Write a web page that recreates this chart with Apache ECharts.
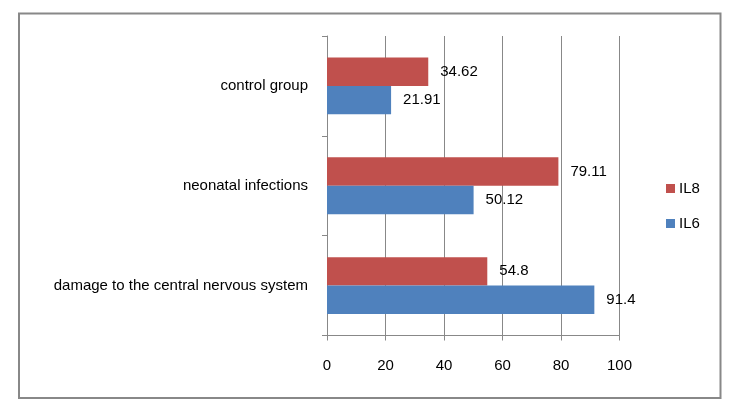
<!DOCTYPE html>
<html>
<head>
<meta charset="utf-8">
<script src="https://cdn.jsdelivr.net/npm/echarts@6/dist/echarts.min.js"></script>
<style>
html,body{margin:0;padding:0;background:#fff;}
#chart{width:734px;height:408px;}
</style>
</head>
<body>
<div id="chart"></div>
<script>
const categories = ['damage to the central nervous system', 'neonatal infections', 'control group'];
const il6 = [91.4, 50.12, 21.91];
const il8 = [54.8, 79.11, 34.62];
const xTicks = { min: 0, max: 100, interval: 20 };

const FONT = 'Liberation Sans';
const FS = 15;
const chart = echarts.init(document.getElementById('chart'), null, { renderer: 'canvas' });
chart.setOption({
  backgroundColor: '#fff',
  animation: false,
  textStyle: { fontFamily: FONT },
  graphic: [{
    type: 'rect',
    shape: { x: 19, y: 13.5, width: 701.5, height: 384.5 },
    style: { fill: 'none', stroke: '#888', lineWidth: 2 },
    silent: true
  }],
  grid: { left: 327, right: 114.5, top: 36, bottom: 72.5, containLabel: false },
  legend: {
    orient: 'vertical',
    left: 666, top: 181, padding: 0,
    itemWidth: 9, itemHeight: 9, itemGap: 20,
    icon: 'rect',
    data: ['IL8', 'IL6'],
    textStyle: { fontSize: FS, color: '#000', fontFamily: FONT, padding: [0,0,0,-1] },
    selectedMode: false
  },
  xAxis: {
    type: 'value', min: xTicks.min, max: xTicks.max, interval: xTicks.interval,
    axisLine: { show: true, lineStyle: { color: '#888', width: 1 } },
    axisTick: { show: true, length: 5, lineStyle: { color: '#888' } },
    splitLine: { show: true, lineStyle: { color: '#888', width: 1 } },
    axisLabel: { fontSize: FS, color: '#000', margin: 23, fontFamily: FONT }
  },
  yAxis: {
    type: 'category', data: categories,
    axisLine: { show: true, lineStyle: { color: '#888', width: 1 } },
    axisTick: { show: true, length: 5, lineStyle: { color: '#888' } },
    axisLabel: { fontSize: FS, color: '#000', margin: 19, fontFamily: FONT }
  },
  series: [
    {
      name: 'IL8', type: 'bar', data: il8, barGap: 0, barCategoryGap: '43%',
      itemStyle: { color: '#C0504D' },
      label: { show: true, position: 'right', distance: 12, fontSize: FS, color: '#000', fontFamily: FONT }
    },
    {
      name: 'IL6', type: 'bar', data: il6, barGap: 0, barCategoryGap: '43%',
      itemStyle: { color: '#4F81BD' },
      label: { show: true, position: 'right', distance: 12, fontSize: FS, color: '#000', fontFamily: FONT }
    }
  ]
});
</script>
</body>
</html>
